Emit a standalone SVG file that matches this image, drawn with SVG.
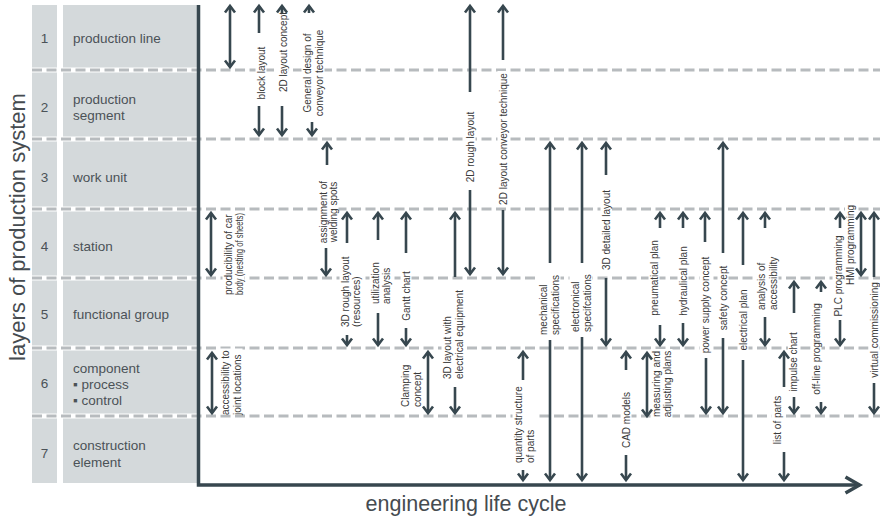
<svg xmlns="http://www.w3.org/2000/svg" width="880" height="520" viewBox="0 0 880 520">
  <defs>
    <style>
      .pn{fill:#d4d9db}
      .pt{font-family:"Liberation Sans",Arial,sans-serif;font-size:13.5px;fill:#4b5257}
      .band{stroke:#fff;stroke-width:5}
      .dash{stroke:#b7bbbe;stroke-width:3;stroke-dasharray:10 4.5;fill:none}
      .ar{stroke:#37474f;stroke-width:2.6;fill:none}
      .axis{stroke:#37474f;stroke-width:3.5;fill:none;stroke-linejoin:miter}
      .bg{fill:#fff}
      .lb{font-family:"Liberation Sans",Arial,sans-serif;font-size:10px;fill:#3a3a3a}
      .ttl{font-family:"Liberation Sans",Arial,sans-serif;font-size:22px;fill:#454b50}
    </style>
    <marker id="ah" markerUnits="userSpaceOnUse" viewBox="-10 -7 14 14" markerWidth="14" markerHeight="14" refX="0" refY="0" orient="auto-start-reverse" overflow="visible">
      <path d="M-6.5,-5 L0,0 L-6.5,5" fill="none" stroke="#37474f" stroke-width="2.6"/>
    </marker>
    <marker id="axh" markerUnits="userSpaceOnUse" viewBox="-18 -11 24 22" markerWidth="24" markerHeight="22" refX="0" refY="0" orient="auto" overflow="visible">
      <path d="M-14,-8 L0,0 L-14,8" fill="none" stroke="#37474f" stroke-width="3.5"/>
    </marker>
  </defs>

  <rect width="880" height="520" fill="#fff"/>

  <!-- layer panel: number column + name column per row -->
  <g id="layer-1">
    <rect class="pn" x="32" y="5" width="25" height="62.5"/>
    <rect class="pn" x="63" y="5" width="134" height="62.5"/>
    <text class="pt" x="44.5" y="42.5" text-anchor="middle">1</text>
    <text class="pt" x="73" y="42.5">production line</text>
  </g>
  <g id="layer-2">
    <rect class="pn" x="32" y="72.5" width="25" height="64"/>
    <rect class="pn" x="63" y="72.5" width="134" height="64"/>
    <text class="pt" x="44.5" y="111.5" text-anchor="middle">2</text>
    <text class="pt" x="73" y="103.5">production</text>
    <text class="pt" x="73" y="119.5">segment</text>
  </g>
  <g id="layer-3">
    <rect class="pn" x="32" y="141.5" width="25" height="65"/>
    <rect class="pn" x="63" y="141.5" width="134" height="65"/>
    <text class="pt" x="44.5" y="181.5" text-anchor="middle">3</text>
    <text class="pt" x="73" y="181.5">work unit</text>
  </g>
  <g id="layer-4">
    <rect class="pn" x="32" y="211.5" width="25" height="64"/>
    <rect class="pn" x="63" y="211.5" width="134" height="64"/>
    <text class="pt" x="44.5" y="250.5" text-anchor="middle">4</text>
    <text class="pt" x="73" y="250.5">station</text>
  </g>
  <g id="layer-5">
    <rect class="pn" x="32" y="280.5" width="25" height="65"/>
    <rect class="pn" x="63" y="280.5" width="134" height="65"/>
    <text class="pt" x="44.5" y="318.5" text-anchor="middle">5</text>
    <text class="pt" x="73" y="318.5">functional group</text>
  </g>
  <g id="layer-6">
    <rect class="pn" x="32" y="350.5" width="25" height="63"/>
    <rect class="pn" x="63" y="350.5" width="134" height="63"/>
    <text class="pt" x="44.5" y="387.5" text-anchor="middle">6</text>
    <text class="pt" x="73" y="372.5">component</text>
    <text class="pt" x="73" y="388.5">▪ process</text>
    <text class="pt" x="73" y="404.5">▪ control</text>
  </g>
  <g id="layer-7">
    <rect class="pn" x="32" y="418.5" width="25" height="64.5"/>
    <rect class="pn" x="63" y="418.5" width="134" height="64.5"/>
    <text class="pt" x="44.5" y="457.5" text-anchor="middle">7</text>
    <text class="pt" x="73" y="449.5">construction</text>
    <text class="pt" x="73" y="466.5">element</text>
  </g>

  <!-- layer boundaries -->
  <g id="grid">
    <path class="dash" d="M32,70H880M32,139H880M32,209H880M32,278H880M32,348H880M32,416H880"/>
  </g>

  <!-- activity labels (rotated, white backing hides the grid) -->
  <g id="n-block-layout" transform="translate(261,73) rotate(-90)">
    <rect class="bg" x="-28.5" y="-5.5" width="57" height="11"/>
    <text class="lb" y="3.5" text-anchor="middle">block layout</text>
  </g>
  <g id="n-2d-layout-concept" transform="translate(283,52) rotate(-90)">
    <rect class="bg" x="-42" y="-5.5" width="84" height="11"/>
    <text class="lb" y="3.5" text-anchor="middle">2D layout concept</text>
  </g>
  <g id="n-general-design" transform="translate(313,73) rotate(-90)">
    <rect class="bg" x="-45.5" y="-11.5" width="91" height="23"/>
    <text class="lb" y="-2.5" text-anchor="middle">General design of</text>
    <text class="lb" y="9.5" text-anchor="middle">conveyor technique</text>
  </g>
  <g id="n-welding-spots" transform="translate(328,212) rotate(-90)">
    <rect class="bg" x="-33" y="-10.5" width="66" height="21"/>
    <text class="lb" y="-1.5" text-anchor="middle">assignment of</text>
    <text class="lb" y="8.5" text-anchor="middle">welding spots</text>
  </g>
  <g id="n-producibility" transform="translate(233.5,295) rotate(-90)">
    <rect class="bg" x="-1" y="-11" width="85" height="22"/>
    <text class="lb" y="-2">producibility of car</text>
    <text class="lb" y="9" textLength="82" lengthAdjust="spacingAndGlyphs">body (nesting of sheets)</text>
  </g>
  <g id="n-accessibility-joints" transform="translate(231,415) rotate(-90)">
    <rect class="bg" x="0.5" y="-11.5" width="66" height="23"/>
    <text class="lb" y="-2.5">accessibility to</text>
    <text class="lb" y="9.5">joint locations</text>
  </g>
  <g id="n-3d-rough-layout" transform="translate(350.5,327) rotate(-90)">
    <rect class="bg" x="-1" y="-11" width="74" height="22"/>
    <text class="lb" y="-2">3D rough layout</text>
    <text class="lb" y="9">(resources)</text>
  </g>
  <g id="n-utilization" transform="translate(380.5,304) rotate(-90)">
    <rect class="bg" x="-1" y="-11" width="45" height="22"/>
    <text class="lb" y="-2">utilization</text>
    <text class="lb" y="9">analysis</text>
  </g>
  <g id="n-gantt" transform="translate(406,296) rotate(-90)">
    <rect class="bg" x="-26.5" y="-5.5" width="53" height="11"/>
    <text class="lb" y="3.5" text-anchor="middle">Gantt chart</text>
  </g>
  <g id="n-clamping" transform="translate(411,407) rotate(-90)">
    <rect class="bg" x="-1" y="-11.5" width="45" height="23"/>
    <text class="lb" y="-2.5">Clamping</text>
    <text class="lb" y="9.5">concept</text>
  </g>
  <g id="n-3d-electrical" transform="translate(453,379) rotate(-90)">
    <rect class="bg" x="-1" y="-11.5" width="92" height="23"/>
    <text class="lb" y="-2.5">3D layout with</text>
    <text class="lb" y="9.5">electrical equipment</text>
  </g>
  <g id="n-2d-rough-layout" transform="translate(470,147) rotate(-90)">
    <rect class="bg" x="-37.5" y="-5.5" width="75" height="11"/>
    <text class="lb" y="3.5" text-anchor="middle">2D rough layout</text>
  </g>
  <g id="n-2d-conveyor" transform="translate(503,139) rotate(-90)">
    <rect class="bg" x="-68" y="-5.5" width="136" height="11"/>
    <text class="lb" y="3.5" text-anchor="middle">2D layout conveyor technique</text>
  </g>
  <g id="n-quantity-structure" transform="translate(524,463) rotate(-90)">
    <rect class="bg" x="-1" y="-11.5" width="80" height="23"/>
    <text class="lb" y="-2.5">quantity structure</text>
    <text class="lb" y="9.5">of parts</text>
  </g>
  <g id="n-mechanical-spec" transform="translate(549,335) rotate(-90)">
    <rect class="bg" x="-1" y="-11.5" width="62" height="23"/>
    <text class="lb" y="-2.5">mechanical</text>
    <text class="lb" y="9.5">specifications</text>
  </g>
  <g id="n-electronical-spec" transform="translate(581,332) rotate(-90)">
    <rect class="bg" x="-1" y="-11.5" width="60" height="23"/>
    <text class="lb" y="-2.5">electronical</text>
    <text class="lb" y="9.5">specifcations</text>
  </g>
  <g id="n-3d-detailed" transform="translate(606,230) rotate(-90)">
    <rect class="bg" x="-42" y="-5.5" width="84" height="11"/>
    <text class="lb" y="3.5" text-anchor="middle">3D detailed layout</text>
  </g>
  <g id="n-cad" transform="translate(626,420) rotate(-90)">
    <rect class="bg" x="-30" y="-5.5" width="60" height="11"/>
    <text class="lb" y="3.5" text-anchor="middle">CAD models</text>
  </g>
  <g id="n-measuring" transform="translate(661.5,384) rotate(-90)">
    <rect class="bg" x="-35" y="-11" width="70" height="22"/>
    <text class="lb" y="-2" text-anchor="middle">measuring and</text>
    <text class="lb" y="9" text-anchor="middle">adjusting plans</text>
  </g>
  <g id="n-pneumatical" transform="translate(654,278) rotate(-90)">
    <rect class="bg" x="-40" y="-5.5" width="80" height="11"/>
    <text class="lb" y="3.5" text-anchor="middle">pneumatical plan</text>
  </g>
  <g id="n-hydraulical" transform="translate(683,281) rotate(-90)">
    <rect class="bg" x="-36.5" y="-5.5" width="73" height="11"/>
    <text class="lb" y="3.5" text-anchor="middle">hydraulical plan</text>
  </g>
  <g id="n-power-supply" transform="translate(705,305) rotate(-90)">
    <rect class="bg" x="-50.5" y="-5.5" width="101" height="11"/>
    <text class="lb" y="3.5" text-anchor="middle">power supply concept</text>
  </g>
  <g id="n-safety" transform="translate(723,298) rotate(-90)">
    <rect class="bg" x="-34" y="-5.5" width="68" height="11"/>
    <text class="lb" y="3.5" text-anchor="middle">safety concept</text>
  </g>
  <g id="n-electrical-plan" transform="translate(743,320) rotate(-90)">
    <rect class="bg" x="-32.5" y="-5.5" width="65" height="11"/>
    <text class="lb" y="3.5" text-anchor="middle">electrical plan</text>
  </g>
  <g id="n-accessibility-analysis" transform="translate(767,310) rotate(-90)">
    <rect class="bg" x="-1" y="-11.5" width="56" height="23"/>
    <text class="lb" y="-2.5">analysis of</text>
    <text class="lb" y="9.5">accessibility</text>
  </g>
  <g id="n-impulse" transform="translate(793,362) rotate(-90)">
    <rect class="bg" x="-31.5" y="-5" width="63" height="10.5"/>
    <text class="lb" y="3.5" text-anchor="middle">impulse chart</text>
  </g>
  <g id="n-parts-list" transform="translate(777,420) rotate(-90)">
    <rect class="bg" x="-26" y="-5.5" width="52" height="11"/>
    <text class="lb" y="3.5" text-anchor="middle">list of parts</text>
  </g>
  <g id="n-offline" transform="translate(816,349) rotate(-90)">
    <rect class="bg" x="-48" y="-5.5" width="96" height="11"/>
    <text class="lb" y="3.5" text-anchor="middle">off-line programming</text>
  </g>
  <g id="n-plc" transform="translate(838,276) rotate(-90)">
    <rect class="bg" x="-42.5" y="-5.5" width="85" height="11"/>
    <text class="lb" y="3.5" text-anchor="middle">PLC programming</text>
  </g>
  <g id="n-hmi" transform="translate(850,245) rotate(-90)">
    <rect class="bg" x="-42" y="-5" width="84" height="10.5"/>
    <text class="lb" y="3.5" text-anchor="middle">HMI programming</text>
  </g>
  <g id="n-virtual" transform="translate(874,330) rotate(-90)">
    <rect class="bg" x="-50" y="-5.5" width="100" height="11"/>
    <text class="lb" y="3.5" text-anchor="middle">virtual commissioning</text>
  </g>

  <!-- connectors: span of each activity across the layers -->
  <g id="connectors" class="ar">
    <line x1="230" y1="6" x2="230" y2="67" marker-start="url(#ah)" marker-end="url(#ah)"/>
    <line x1="259" y1="33" x2="259" y2="6" marker-end="url(#ah)"/>
    <line x1="259" y1="106" x2="259" y2="135" marker-end="url(#ah)"/>
    <line x1="282" y1="13" x2="282" y2="6" marker-end="url(#ah)"/>
    <line x1="282" y1="106" x2="282" y2="135" marker-end="url(#ah)"/>
    <line x1="309" y1="13" x2="309" y2="6" marker-end="url(#ah)"/>
    <line x1="312" y1="122" x2="312" y2="135" marker-end="url(#ah)"/>
    <line x1="327" y1="165" x2="327" y2="143" marker-end="url(#ah)"/>
    <line x1="326" y1="248" x2="326" y2="275" marker-end="url(#ah)"/>
    <line x1="211" y1="213" x2="211" y2="275" marker-start="url(#ah)" marker-end="url(#ah)"/>
    <line x1="212" y1="353" x2="212" y2="413" marker-start="url(#ah)" marker-end="url(#ah)"/>
    <line x1="347" y1="243" x2="347" y2="213" marker-end="url(#ah)"/>
    <line x1="347" y1="335" x2="347" y2="345" marker-end="url(#ah)"/>
    <line x1="378" y1="240" x2="378" y2="213" marker-end="url(#ah)"/>
    <line x1="378" y1="313" x2="378" y2="345" marker-end="url(#ah)"/>
    <line x1="406" y1="253" x2="406" y2="213" marker-end="url(#ah)"/>
    <line x1="406" y1="328" x2="406" y2="345" marker-end="url(#ah)"/>
    <line x1="428" y1="352" x2="428" y2="413" marker-start="url(#ah)" marker-end="url(#ah)"/>
    <line x1="455" y1="277" x2="455" y2="213" marker-end="url(#ah)"/>
    <line x1="455" y1="387" x2="455" y2="413" marker-end="url(#ah)"/>
    <line x1="470" y1="92" x2="470" y2="6" marker-end="url(#ah)"/>
    <line x1="470" y1="190" x2="470" y2="274" marker-end="url(#ah)"/>
    <line x1="503" y1="60" x2="503" y2="6" marker-end="url(#ah)"/>
    <line x1="503" y1="210" x2="503" y2="274" marker-end="url(#ah)"/>
    <line x1="523" y1="380" x2="523" y2="352" marker-end="url(#ah)"/>
    <line x1="523" y1="470" x2="523" y2="480" marker-end="url(#ah)"/>
    <line x1="550" y1="263" x2="550" y2="143" marker-end="url(#ah)"/>
    <line x1="550" y1="340" x2="550" y2="480" marker-end="url(#ah)"/>
    <line x1="582" y1="263" x2="582" y2="143" marker-end="url(#ah)"/>
    <line x1="582" y1="337" x2="582" y2="480" marker-end="url(#ah)"/>
    <line x1="606" y1="175" x2="606" y2="143" marker-end="url(#ah)"/>
    <line x1="606" y1="278" x2="606" y2="345" marker-end="url(#ah)"/>
    <line x1="626" y1="370" x2="626" y2="352" marker-end="url(#ah)"/>
    <line x1="626" y1="455" x2="626" y2="480" marker-end="url(#ah)"/>
    <line x1="647" y1="353" x2="647" y2="416" marker-start="url(#ah)" marker-end="url(#ah)"/>
    <line x1="660" y1="228" x2="660" y2="213" marker-end="url(#ah)"/>
    <line x1="660" y1="325" x2="660" y2="345" marker-end="url(#ah)"/>
    <line x1="683" y1="228" x2="683" y2="213" marker-end="url(#ah)"/>
    <line x1="683" y1="323" x2="683" y2="345" marker-end="url(#ah)"/>
    <line x1="705" y1="242" x2="705" y2="213" marker-end="url(#ah)"/>
    <line x1="706" y1="358" x2="706" y2="413" marker-end="url(#ah)"/>
    <line x1="723" y1="253" x2="723" y2="143" marker-end="url(#ah)"/>
    <line x1="723" y1="338" x2="723" y2="413" marker-end="url(#ah)"/>
    <line x1="743" y1="265" x2="743" y2="213" marker-end="url(#ah)"/>
    <line x1="743" y1="360" x2="743" y2="480" marker-end="url(#ah)"/>
    <line x1="765" y1="228" x2="765" y2="213" marker-end="url(#ah)"/>
    <line x1="765" y1="317" x2="765" y2="345" marker-end="url(#ah)"/>
    <line x1="794" y1="313" x2="794" y2="282" marker-end="url(#ah)"/>
    <line x1="794" y1="397" x2="794" y2="413" marker-end="url(#ah)"/>
    <line x1="784" y1="387" x2="784" y2="352" marker-end="url(#ah)"/>
    <line x1="784" y1="452" x2="784" y2="480" marker-end="url(#ah)"/>
    <line x1="821" y1="292" x2="821" y2="282" marker-end="url(#ah)"/>
    <line x1="821" y1="402" x2="821" y2="413" marker-end="url(#ah)"/>
    <line x1="840" y1="228" x2="840" y2="213" marker-end="url(#ah)"/>
    <line x1="840" y1="320" x2="840" y2="345" marker-end="url(#ah)"/>
    <line x1="861" y1="213" x2="861" y2="275" marker-start="url(#ah)" marker-end="url(#ah)"/>
    <line x1="874" y1="277" x2="874" y2="213" marker-end="url(#ah)"/>
    <line x1="874" y1="383" x2="874" y2="413" marker-end="url(#ah)"/>
  </g>

  <!-- axes -->
  <g id="axes">
    <polyline class="axis" points="198.5,5 198.5,485 859.5,485" marker-end="url(#axh)"/>
    <text class="ttl" transform="translate(25,227) rotate(-90)" text-anchor="middle">layers of production system</text>
    <text class="ttl" x="466" y="511" text-anchor="middle" style="font-size:21.5px">engineering life cycle</text>
  </g>
</svg>
